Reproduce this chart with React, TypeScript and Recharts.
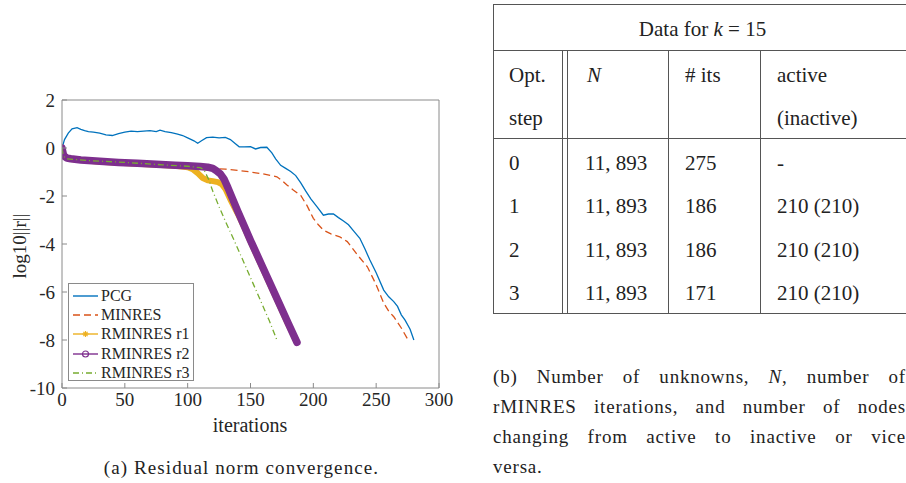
import React from 'react';
import { LineChart, Line, XAxis, YAxis } from 'recharts';

// iteration ticks / log10 residual ticks
const xTicks = [0, 50, 100, 150, 200, 250, 300];
const yTicks = [-10, -8, -6, -4, -2, 0, 2];

const pcgIts = [0, 2, 5, 8, 12, 15, 18, 21, 25, 30, 35, 40, 45, 50, 55, 60, 65, 70, 75, 78, 82, 87, 92, 96, 100, 105, 108, 111, 115, 120, 125, 130, 134, 138, 141, 145, 150, 154, 158, 163, 167, 170, 174, 178, 182, 186, 190, 194, 198, 203, 208, 212, 216, 220, 224, 228, 232, 237, 241, 245, 250, 256, 260, 264, 267, 270, 273, 277, 280];
const pcgRes = [0, 0.35, 0.62, 0.8, 0.85, 0.78, 0.72, 0.68, 0.66, 0.62, 0.55, 0.52, 0.6, 0.66, 0.7, 0.68, 0.7, 0.72, 0.68, 0.74, 0.68, 0.64, 0.58, 0.52, 0.42, 0.3, 0.2, 0.3, 0.43, 0.45, 0.42, 0.44, 0.35, 0.18, 0.05, 0.05, 0.06, -0.04, 0.02, 0.03, -0.2, -0.45, -0.72, -0.85, -0.98, -1.15, -1.45, -1.8, -2.12, -2.45, -2.8, -2.75, -2.75, -2.9, -3.04, -3.2, -3.45, -3.76, -4.2, -4.67, -5.2, -5.92, -6.2, -6.4, -6.6, -6.95, -7.17, -7.55, -8.0];

const minresIts = [0, 2, 5, 20, 40, 60, 80, 100, 110, 120, 130, 140, 150, 160, 171, 175, 179, 184, 190, 195, 200, 204, 208, 214, 221, 227, 230, 235, 243, 250, 256, 260, 264, 270, 276];
const minresRes = [0, -0.36, -0.45, -0.5, -0.57, -0.63, -0.7, -0.76, -0.8, -0.85, -0.88, -0.93, -1.0, -1.08, -1.2, -1.35, -1.54, -1.75, -1.98, -2.4, -2.93, -3.2, -3.42, -3.58, -3.7, -3.9, -4.1, -4.45, -4.95, -5.7, -6.46, -6.8, -7.03, -7.5, -8.05];

const r1Its = [0, 1, 2, 7, 30, 60, 90, 100, 104, 108, 112, 116, 120, 124, 127, 130, 134, 140, 145, 150, 160, 170, 180, 187];
const r1Res = [0, -0.25, -0.35, -0.46, -0.57, -0.66, -0.74, -0.8, -0.88, -1.05, -1.25, -1.35, -1.38, -1.42, -1.5, -1.7, -2.15, -2.75, -3.3, -3.9, -5.05, -6.2, -7.35, -8.1];

const r2Its = [0, 1, 2, 4, 7, 15, 30, 45, 60, 75, 90, 100, 110, 116, 120, 123, 126, 129, 132, 136, 140, 145, 150, 160, 170, 180, 187];
const r2Res = [0, -0.25, -0.35, -0.42, -0.45, -0.5, -0.55, -0.6, -0.64, -0.68, -0.72, -0.74, -0.77, -0.8, -0.85, -0.95, -1.08, -1.3, -1.65, -2.15, -2.65, -3.25, -3.85, -5.0, -6.15, -7.3, -8.1];

const r3Its = [0, 1, 3, 20, 50, 80, 100, 110, 113, 117, 120, 125, 130, 137, 145, 155, 165, 171];
const r3Res = [0, -0.3, -0.45, -0.52, -0.6, -0.7, -0.76, -0.82, -0.9, -1.35, -1.8, -2.45, -3.05, -3.85, -4.8, -6.0, -7.2, -8.0];

// table (b)
const tableSteps = ['0', '1', '2', '3'];
const tableN = ['11, 893', '11, 893', '11, 893', '11, 893'];
const tableIts = ['275', '186', '186', '171'];
const tableActive = ['-', '210 (210)', '210 (210)', '210 (210)'];

const pts = (xs: number[], ys: number[]) => xs.map((x, i) => ({ x, y: ys[i] }));

const BLUE = '#0072BD';
const ORANGE = '#D95319';
const YELLOW = '#EDB120';
const PURPLE = '#7E2F8E';
const GREEN = '#77AC30';
const AXIS = '#8a8a8a';
const SERIF = '"Liberation Serif", "Tinos", "Times New Roman", "DejaVu Serif", "Noto Serif", serif';

const tickStyle = { fontSize: 19, fill: '#262626', fontFamily: SERIF };

const legendItems = [
  { name: 'PCG', color: BLUE, dash: undefined as string | undefined, marker: '' },
  { name: 'MINRES', color: ORANGE, dash: '7 4', marker: '' },
  { name: 'RMINRES r1', color: YELLOW, dash: undefined, marker: 'star' },
  { name: 'RMINRES r2', color: PURPLE, dash: undefined, marker: 'circle' },
  { name: 'RMINRES r3', color: GREEN, dash: '6 3 1 3', marker: '' },
];

const ResidualChart = () => (
  <div style={{ position: 'absolute', left: 0, top: 0, width: 470, height: 440 }}>
    <LineChart width={460} height={440} margin={{ top: 99, right: 20, left: 12, bottom: 22 }}>
      <XAxis
        xAxisId="b"
        type="number"
        dataKey="x"
        domain={[0, 300]}
        ticks={xTicks}
        height={30}
        tickSize={-5}
        tickMargin={10}
        tick={tickStyle}
        axisLine={{ stroke: AXIS }}
        tickLine={{ stroke: AXIS }}
        allowDataOverflow
      />
      <XAxis
        xAxisId="t"
        orientation="top"
        type="number"
        dataKey="x"
        domain={[0, 300]}
        ticks={xTicks}
        height={1}
        tickSize={-5}
        tick={false}
        axisLine={{ stroke: AXIS }}
        tickLine={{ stroke: AXIS }}
      />
      <YAxis
        yAxisId="l"
        type="number"
        domain={[-10, 2]}
        ticks={yTicks}
        width={50}
        tickSize={-5}
        tickMargin={12}
        tick={tickStyle}
        axisLine={{ stroke: AXIS }}
        tickLine={{ stroke: AXIS }}
        allowDataOverflow
      />
      <YAxis
        yAxisId="r"
        orientation="right"
        type="number"
        domain={[-10, 2]}
        ticks={yTicks}
        width={1}
        tickSize={-5}
        tick={false}
        axisLine={{ stroke: AXIS }}
        tickLine={{ stroke: AXIS }}
      />
      <Line xAxisId="b" yAxisId="l" data={pts(pcgIts, pcgRes)} dataKey="y" stroke={BLUE} strokeWidth={1.3} dot={false} isAnimationActive={false} />
      <Line xAxisId="b" yAxisId="l" data={pts(minresIts, minresRes)} dataKey="y" stroke={ORANGE} strokeWidth={1.3} strokeDasharray="7 4" dot={false} isAnimationActive={false} />
      <Line xAxisId="b" yAxisId="l" data={pts(r1Its, r1Res)} dataKey="y" stroke={YELLOW} strokeWidth={6} strokeLinecap="round" strokeLinejoin="round" dot={false} isAnimationActive={false} />
      <Line xAxisId="b" yAxisId="l" data={pts(r2Its, r2Res)} dataKey="y" stroke={PURPLE} strokeWidth={7.5} strokeLinecap="round" strokeLinejoin="round" dot={false} isAnimationActive={false} />
      <Line xAxisId="b" yAxisId="l" data={pts(r3Its, r3Res)} dataKey="y" stroke={GREEN} strokeWidth={1.3} strokeDasharray="6 3 1 3" dot={false} isAnimationActive={false} />
    </LineChart>
    <div style={{ position: 'absolute', left: 0, top: 246, width: 40, height: 0 }}>
      <div style={{ position: 'absolute', left: -30, top: -11, width: 100, textAlign: 'center', transform: 'rotate(-90deg)', fontFamily: SERIF, fontSize: 19, color: '#262626', lineHeight: '22px' }}>
        log10||r||
      </div>
    </div>
    <div style={{ position: 'absolute', left: 200, top: 414, width: 100, textAlign: 'center', fontFamily: SERIF, fontSize: 20, color: '#262626', lineHeight: '22px' }}>
      iterations
    </div>
    <div style={{ position: 'absolute', left: 68, top: 283, width: 126, height: 98, border: `1px solid ${AXIS}`, background: '#fff', paddingTop: 2, boxSizing: 'border-box' }}>
      {legendItems.map((it) => (
        <div key={it.name} style={{ display: 'flex', alignItems: 'center', height: 19.3 }}>
          <svg width={32} height={12} style={{ flex: 'none' }}>
            <line x1={4} y1={6} x2={29} y2={6} stroke={it.color} strokeWidth={1.4} strokeDasharray={it.dash} />
            {it.marker === 'circle' && <circle cx={16.5} cy={6} r={3} fill="none" stroke={it.color} strokeWidth={1.2} />}
            {it.marker === 'star' && (
              <g stroke={it.color} strokeWidth={1.2}>
                <line x1={13.5} y1={6} x2={19.5} y2={6} />
                <line x1={16.5} y1={3} x2={16.5} y2={9} />
                <line x1={14.4} y1={3.9} x2={18.6} y2={8.1} />
                <line x1={14.4} y1={8.1} x2={18.6} y2={3.9} />
              </g>
            )}
          </svg>
          <span style={{ fontFamily: SERIF, fontSize: 16, color: '#262626', lineHeight: '18px', whiteSpace: 'nowrap' }}>{it.name}</span>
        </div>
      ))}
    </div>
  </div>
);

const LINE = '#555';
const cellText = { position: 'absolute' as const, fontFamily: SERIF, fontSize: 21, lineHeight: '20px', color: '#222', whiteSpace: 'nowrap' as const };
const rowTops = [153, 196, 240, 283];

const DataTable = () => (
  <div style={{ position: 'absolute', left: 0, top: 0, width: 906, height: 483 }}>
    {/* horizontal rules */}
    <div style={{ position: 'absolute', left: 493, top: 4, width: 430, height: 1, background: LINE }} />
    <div style={{ position: 'absolute', left: 493, top: 50, width: 430, height: 1, background: LINE }} />
    <div style={{ position: 'absolute', left: 493, top: 138, width: 430, height: 1, background: LINE }} />
    <div style={{ position: 'absolute', left: 493, top: 313, width: 430, height: 1, background: LINE }} />
    {/* vertical rules */}
    <div style={{ position: 'absolute', left: 493, top: 4, width: 1, height: 310, background: LINE }} />
    {[562, 567, 668, 760].map((x) => (
      <div key={x} style={{ position: 'absolute', left: x, top: 50, width: 1, height: 264, background: LINE }} />
    ))}
    <div style={{ ...cellText, left: 493, width: 419, top: 19, textAlign: 'center' }}>
      Data for <i>k</i> = 15
    </div>
    <div style={{ ...cellText, left: 509, top: 65 }}>Opt.</div>
    <div style={{ ...cellText, left: 509, top: 108 }}>step</div>
    <div style={{ ...cellText, left: 587, top: 65 }}><i>N</i></div>
    <div style={{ ...cellText, left: 685, top: 65 }}># its</div>
    <div style={{ ...cellText, left: 777, top: 65 }}>active</div>
    <div style={{ ...cellText, left: 777, top: 108 }}>(inactive)</div>
    {tableSteps.map((s, i) => (
      <React.Fragment key={s}>
        <div style={{ ...cellText, left: 509, top: rowTops[i] }}>{s}</div>
        <div style={{ ...cellText, left: 585, top: rowTops[i] }}>{tableN[i]}</div>
        <div style={{ ...cellText, left: 685, top: rowTops[i] }}>{tableIts[i]}</div>
        <div style={{ ...cellText, left: 777, top: rowTops[i] }}>{tableActive[i]}</div>
      </React.Fragment>
    ))}
  </div>
);

const captionLines = [
  ['(b) Number of unknowns, ', 'N', ', number of'],
  ['rMINRES iterations, and number of nodes'],
  ['changing from active to inactive or vice'],
  ['versa.'],
];

export default function App() {
  return (
    <div style={{ position: 'absolute', left: 0, top: 0, width: 906, height: 483, overflow: 'hidden', background: '#fff', fontFamily: SERIF }}>
      <ResidualChart />
      <DataTable />
      <div style={{ position: 'absolute', left: 0, top: 457, width: 483, textAlign: 'center', fontFamily: SERIF, fontSize: 19, letterSpacing: 1.1, lineHeight: '22px', color: '#222', whiteSpace: 'nowrap' }}>
        (a) Residual norm convergence.
      </div>
      <div style={{ position: 'absolute', left: 493, top: 362, width: 413, fontFamily: SERIF, fontSize: 19, letterSpacing: 0.8, lineHeight: '30px', color: '#222' }}>
        {captionLines.map((ln, i) => (
          <div key={i} style={{ textAlign: 'justify', textAlignLast: i < 3 ? 'justify' : 'left', whiteSpace: 'normal', height: 30 }}>
            {ln.map((part, j) => (part === 'N' ? <i key={j}>N</i> : <span key={j}>{part}</span>))}
          </div>
        ))}
      </div>
    </div>
  );
}
